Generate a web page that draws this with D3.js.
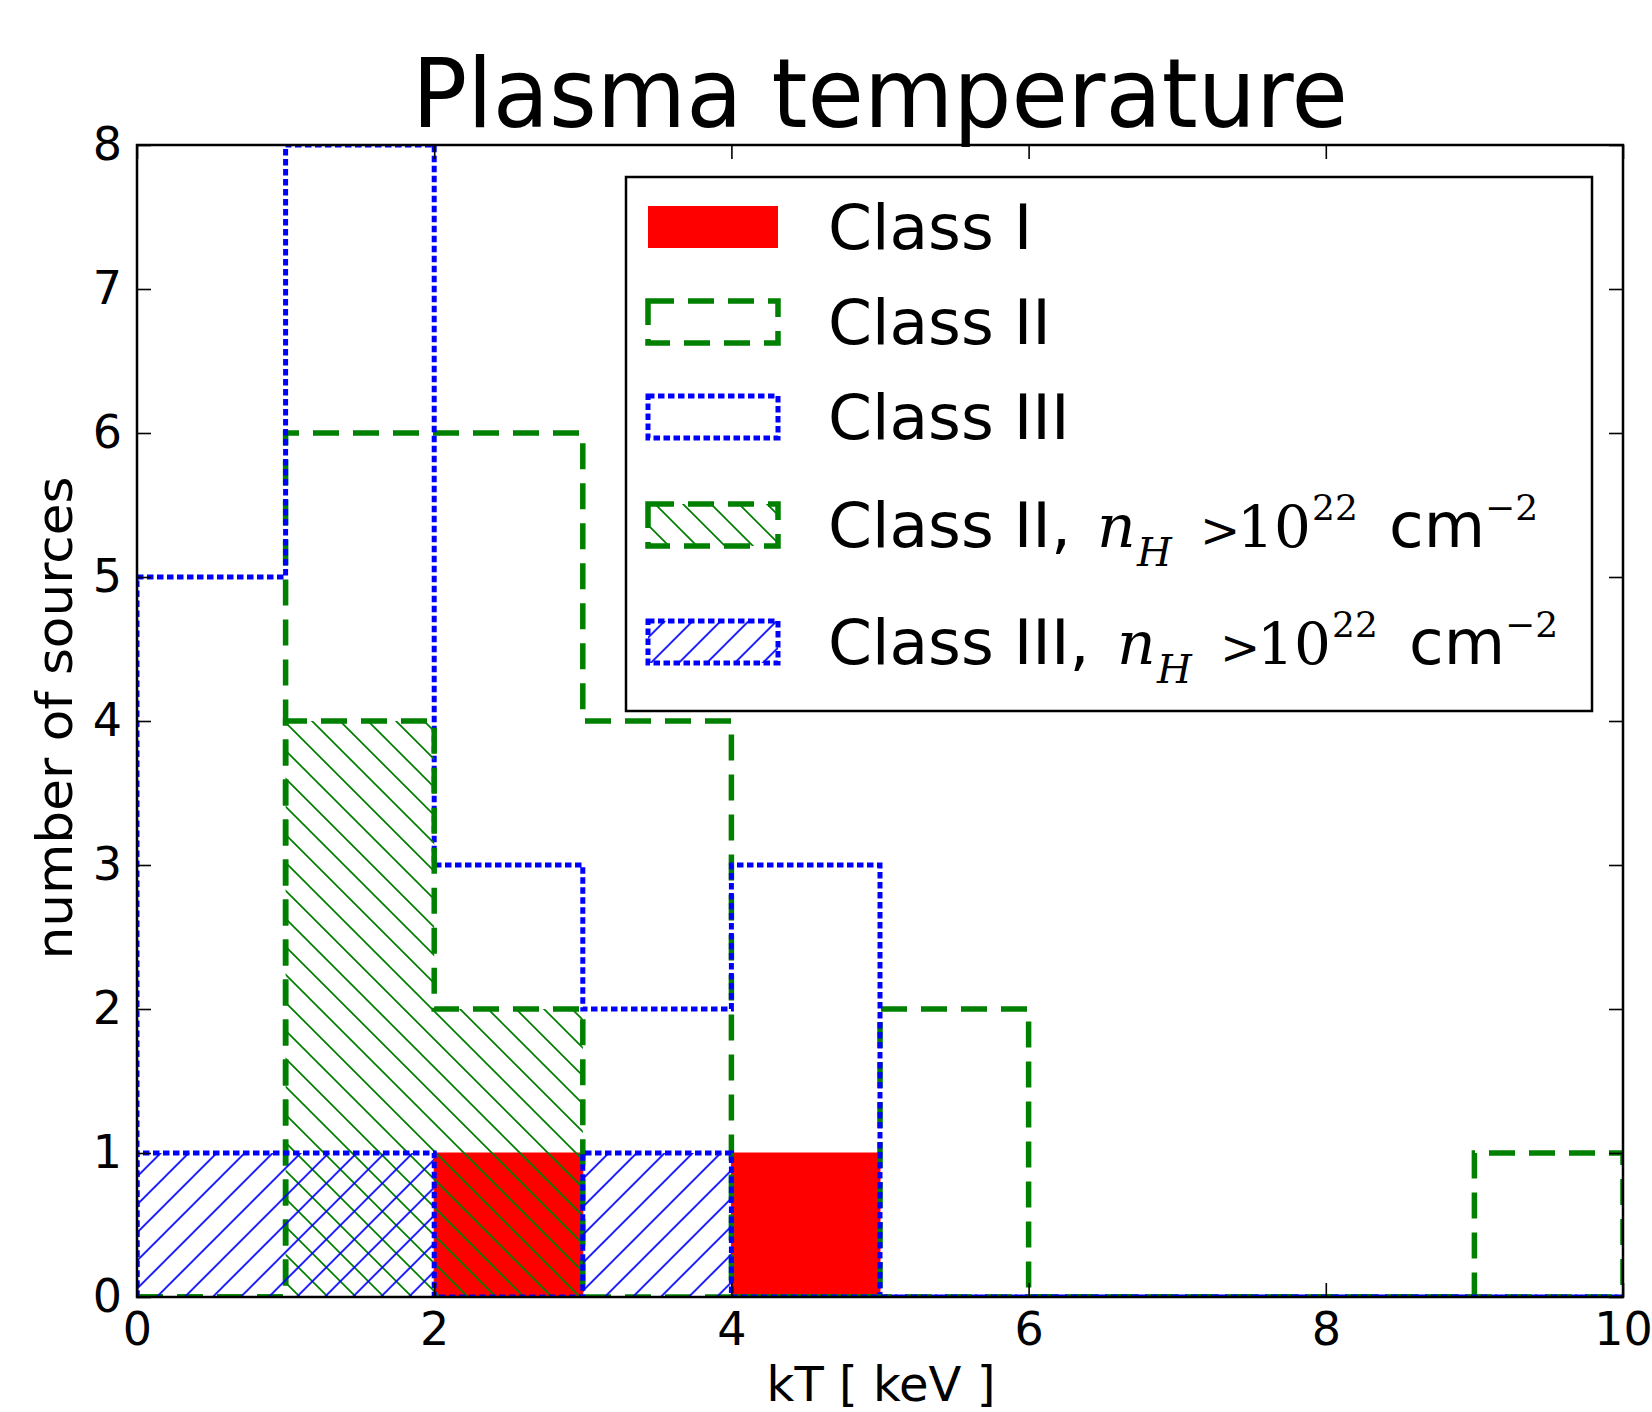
<!DOCTYPE html>
<html><head><meta charset="utf-8">
<script src="https://cdn.jsdelivr.net/npm/d3@7"></script>
<style>body{margin:0;background:#fff}</style>
</head><body>
<svg id="chart" width="1652" height="1412"></svg>
<script>
// ---- data ----
const binEdges = [0,1,2,3,4,5,6,7,8,9,10];
const classI     = [0,0,1,0,1,0,0,0,0,0];
const classII    = [0,6,6,4,0,2,0,0,0,1];
const classIII   = [5,8,3,2,3,0,0,0,0,0];
const classIInH  = [0,4,2,0,0,0,0,0,0,0];
const classIIInH = [1,1,0,1,0,0,0,0,0,0];
const xTicks = [0,2,4,6,8,10];
const yTicks = [0,1,2,3,4,5,6,7,8];
const legendLabels = ["Class I","Class II","Class III","Class II,","Class III,"];
const titleText = "Plasma temperature";
const xLabelText = "kT [ keV ]";
const yLabelText = "number of sources";

// ---- layout ----
const L = 137, R = 1623, T = 145, B = 1297;
const svg = d3.select("#chart");
const x = d3.scaleLinear().domain([0,10]).range([L,R]);
const y = d3.scaleLinear().domain([0,8]).range([B,T]);
const GREEN = "#008000", BLUE = "#0000ff", RED = "#ff0000";
const DASH = "26,14", DOT = "6.5,3.5";
const SANS = "DejaVu Sans", SERIF = "DejaVu Serif";

const defs = svg.append("defs");
defs.append("clipPath").attr("id","plotclip").append("rect")
  .attr("x",L).attr("y",T).attr("width",R-L).attr("height",B-T);
const S = 28;
function hatch(id, dir, color, tx, ty){
  const p = defs.append("pattern").attr("id",id).attr("patternUnits","userSpaceOnUse")
    .attr("width",S).attr("height",S).attr("patternTransform",`translate(${tx},${ty})`);
  const d = dir === "/"
    ? `M0,${S} L${S},0 M${-S/4},${S/4} L${S/4},${-S/4} M${3*S/4},${5*S/4} L${5*S/4},${3*S/4}`
    : `M0,0 L${S},${S} M${-S/4},${3*S/4} L${S/4},${5*S/4} M${3*S/4},${-S/4} L${5*S/4},${S/4}`;
  p.append("path").attr("d",d).attr("stroke",color).attr("stroke-width",1.7).attr("fill","none");
}
hatch("hatchGreen","\\",GREEN,0,17);
hatch("hatchBlue","/",BLUE,25.7,0);

function stepPts(vals){
  const pts = [[binEdges[0],0]];
  vals.forEach((v,i)=>{ pts.push([binEdges[i],v]); pts.push([binEdges[i+1],v]); });
  pts.push([binEdges[binEdges.length-1],0]);
  return pts;
}
const line = d3.line().x(d=>x(d[0])).y(d=>y(d[1]));

const plot = svg.append("g").attr("clip-path","url(#plotclip)");

// Class I (filled red)
plot.append("path").attr("d", line(stepPts(classI))+"Z")
  .attr("fill",RED).attr("stroke",RED).attr("stroke-width",1);
// Class II (green dashed step)
plot.append("path").attr("d", line(stepPts(classII)))
  .attr("fill","none").attr("stroke",GREEN).attr("stroke-width",5.5).attr("stroke-dasharray",DASH);
// Class III (blue dotted step)
plot.append("path").attr("d", line(stepPts(classIII)))
  .attr("fill","none").attr("stroke",BLUE).attr("stroke-width",5).attr("stroke-dasharray",DOT);
// Class II nH (green hatched)
plot.append("path").attr("d", line(stepPts(classIInH))+"Z")
  .attr("fill","url(#hatchGreen)").attr("stroke","none");
plot.append("path").attr("d", line(stepPts(classIInH)))
  .attr("fill","none").attr("stroke",GREEN).attr("stroke-width",5.5).attr("stroke-dasharray",DASH);
// Class III nH (blue hatched)
plot.append("path").attr("d", line(stepPts(classIIInH))+"Z")
  .attr("fill","url(#hatchBlue)").attr("stroke","none");
plot.append("path").attr("d", line(stepPts(classIIInH)))
  .attr("fill","none").attr("stroke",BLUE).attr("stroke-width",5).attr("stroke-dasharray",DOT);

// ---- axes ----
function styleAxis(g){
  g.select(".domain").remove();
  g.selectAll(".tick line").attr("stroke","#000").attr("stroke-width",1.6);
  g.selectAll(".tick text").attr("font-family",SANS).attr("font-size",46).attr("fill","#000");
}
svg.append("g").attr("transform",`translate(0,${B})`)
  .call(d3.axisBottom(x).tickValues(xTicks).tickSize(-14).tickPadding(15).tickFormat(d3.format("d")))
  .call(styleAxis);
svg.append("g").attr("transform",`translate(0,${T})`)
  .call(d3.axisTop(x).tickValues(xTicks).tickSize(-14).tickFormat(""))
  .call(styleAxis);
svg.append("g").attr("transform",`translate(${L},0)`)
  .call(d3.axisLeft(y).tickValues(yTicks).tickSize(-14).tickPadding(15).tickFormat(d3.format("d")))
  .call(styleAxis);
svg.append("g").attr("transform",`translate(${R},0)`)
  .call(d3.axisRight(y).tickValues(yTicks).tickSize(-14).tickFormat(""))
  .call(styleAxis);

// frame
svg.append("rect").attr("x",L).attr("y",T).attr("width",R-L).attr("height",B-T)
  .attr("fill","none").attr("stroke","#000").attr("stroke-width",2.5);

// ---- titles ----
svg.append("text").attr("x",(L+R)/2).attr("y",127).attr("text-anchor","middle")
  .attr("font-family",SANS).attr("font-size",96).attr("textLength",936)
  .attr("lengthAdjust","spacingAndGlyphs").text(titleText);
svg.append("text").attr("x",(L+R)/2+1).attr("y",1401).attr("text-anchor","middle")
  .attr("font-family",SANS).attr("font-size",48).text(xLabelText);
svg.append("text").attr("transform",`translate(72,${(T+B)/2-3}) rotate(-90)`).attr("text-anchor","middle")
  .attr("font-family",SANS).attr("font-size",50).attr("textLength",483)
  .attr("lengthAdjust","spacingAndGlyphs").text(yLabelText);

// ---- legend ----
const lg = svg.append("g");
lg.append("rect").attr("x",626).attr("y",177).attr("width",966).attr("height",534)
  .attr("fill","#fff").attr("stroke","#000").attr("stroke-width",2.5);
const rowY = [227,322,417,525,642];
const px = 648, pw = 130, ph = 42;
const patchStyles = [
  {fill:RED, stroke:"none", dash:null, sw:0},
  {fill:"none", stroke:GREEN, dash:DASH, sw:5.5},
  {fill:"none", stroke:BLUE, dash:DOT, sw:5},
  {fill:"url(#hatchGreen)", stroke:GREEN, dash:DASH, sw:5.5},
  {fill:"url(#hatchBlue)", stroke:BLUE, dash:DOT, sw:5}
];
patchStyles.forEach((s,i)=>{
  lg.append("rect").attr("x",px).attr("y",rowY[i]-ph/2).attr("width",pw).attr("height",ph)
    .attr("fill",s.fill).attr("stroke",s.stroke).attr("stroke-width",s.sw)
    .attr("stroke-dasharray",s.dash);
});
legendLabels.forEach((lab,i)=>{
  const base = rowY[i]+22;
  const t = lg.append("text").attr("x",828).attr("y",base)
    .attr("font-family",SANS).attr("font-size",63).attr("fill","#000");
  t.append("tspan").text(lab);
  if(i>=3){
    const off = i===4 ? 20 : 0;
    t.append("tspan").attr("x",1097+off).attr("y",base).attr("font-family",SERIF).attr("font-style","italic").attr("font-size",60).text("n");
    t.append("tspan").attr("x",1137+off).attr("y",base+19).attr("font-family",SERIF).attr("font-style","italic").attr("font-size",40).text("H");
    t.append("tspan").attr("x",1200+off).attr("y",base).attr("font-family",SERIF).attr("font-size",48).text(">");
    t.append("tspan").attr("x",1237+off).attr("y",base).attr("font-family",SERIF).attr("font-size",58).text("10");
    t.append("tspan").attr("x",1312+off).attr("y",base-27).attr("font-family",SERIF).attr("font-size",36).text("22");
    t.append("tspan").attr("x",1389+off).attr("y",base).text("cm");
    t.append("tspan").attr("x",1485+off).attr("y",base-27).attr("font-family",SERIF).attr("font-size",36).text("\u22122");
  }
});
</script>
</body></html>
